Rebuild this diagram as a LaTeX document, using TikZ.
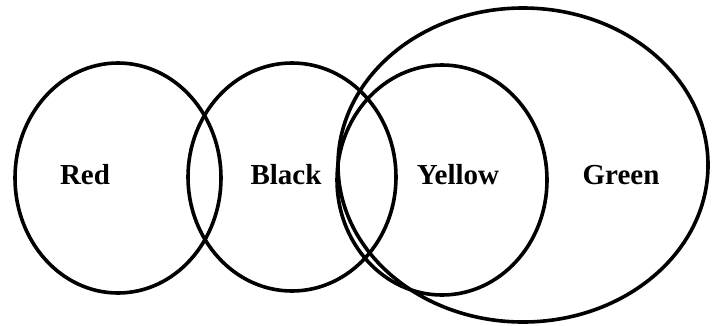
\documentclass[tikz,border=0pt]{standalone}
\usepackage{fontspec}
\setmainfont{Liberation Serif}
\begin{document}
\begin{tikzpicture}[x=1pt,y=-1pt,line width=3.6pt,
    setlabel/.style={font=\fontsize{29}{32}\selectfont\bfseries}]
    \useasboundingbox (0,0) rectangle (719,325);
    % Red set
    \draw (118,178) ellipse (103 and 115);
    \node[setlabel] (red) at (85,175) {Red};
    % Black set (overlaps Red)
    \draw (292,177) ellipse (104 and 114);
    \node[setlabel] (black) at (286,175) {Black};
    % Yellow set (inside Green)
    \draw (442,180) ellipse (105 and 115);
    \node[setlabel] (yellow) at (458,175) {Yellow};
    % Green set (big one)
    \draw (523,165) ellipse (185 and 157);
    \node[setlabel] (green) at (621,175) {Green};
\end{tikzpicture}
\end{document}
